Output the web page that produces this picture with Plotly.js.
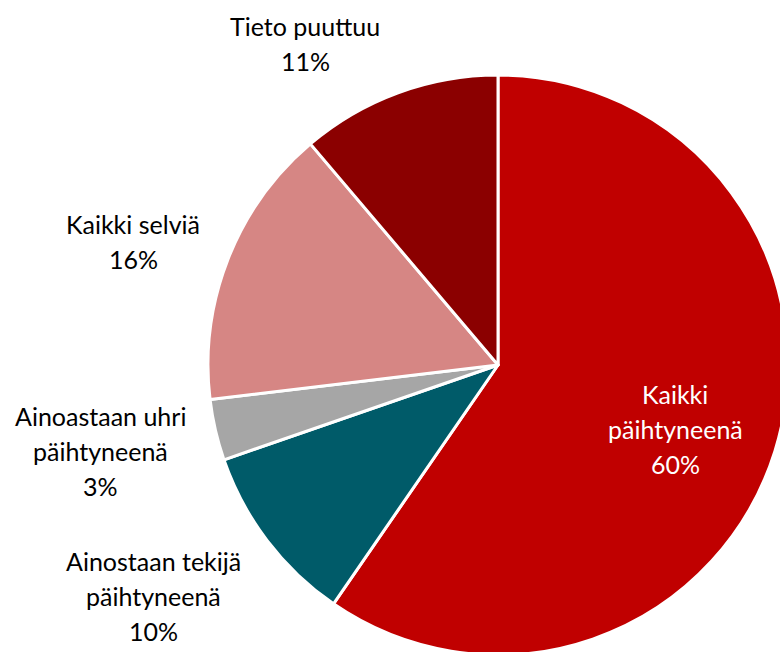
<!DOCTYPE html>
<html>
<head>
<meta charset="utf-8">
<script src="https://cdn.plot.ly/plotly-3.0.1.min.js"></script>
<style>
html, body { margin: 0; padding: 0; overflow: hidden; background: #fff; width: 780px; height: 652px; }
#chart { width: 800px; height: 680px; }
</style>
</head>
<body>
<div id="chart"></div>
<script>
const labels = ["Kaikki päihtyneenä", "Ainostaan tekijä päihtyneenä", "Ainoastaan uhri päihtyneenä", "Kaikki selviä", "Tieto puuttuu"];
const labelLines = [["Kaikki", "päihtyneenä"], ["Ainostaan tekijä", "päihtyneenä"], ["Ainoastaan uhri", "päihtyneenä"], ["Kaikki selviä"], ["Tieto puuttuu"]];
const values = [59.6, 10.1, 3.4, 15.7, 11.2];
const colors = ["#C00000", "#005B69", "#A6A6A6", "#D68684", "#8B0000"];
const textColors = ["#FFFFFF", "#000000", "#000000", "#000000", "#000000"];

const W = 800, H = 680;
// label block: centre x and first line centre y (pixels)
const labelPos = [[675, 394], [153, 561], [100, 416], [133, 224], [305, 26]];
const lineGap = 35;

const total = values.reduce((a, b) => a + b, 0);
const annotations = [];
labels.forEach((l, i) => {
  const lines = labelLines[i].concat([Math.round(values[i] / total * 100) + "%"]);
  lines.forEach((t, j) => {
    annotations.push({
      text: t,
      x: labelPos[i][0] / W,
      y: (H - (labelPos[i][1] + j * lineGap)) / H,
      xref: "paper", yref: "paper",
      xanchor: "center", yanchor: "middle",
      showarrow: false,
      font: { family: "Lato, 'Open Sans', sans-serif", size: 25, color: textColors[i] }
    });
  });
});

const data = [{
  type: "pie",
  labels: labels,
  values: values,
  sort: false,
  direction: "clockwise",
  rotation: 0,
  textinfo: "none",
  hoverinfo: "label+percent",
  marker: { colors: colors, line: { color: "#FFFFFF", width: 3 } },
  domain: { x: [208 / W, 788 / W], y: [(H - 655) / H, (H - 75) / H] }
}];

const layout = {
  width: W, height: H,
  margin: { l: 0, r: 0, t: 0, b: 0 },
  showlegend: false,
  paper_bgcolor: "#FFFFFF",
  annotations: annotations
};

Plotly.newPlot("chart", data, layout, { displayModeBar: false, staticPlot: true });
</script>
</body>
</html>
